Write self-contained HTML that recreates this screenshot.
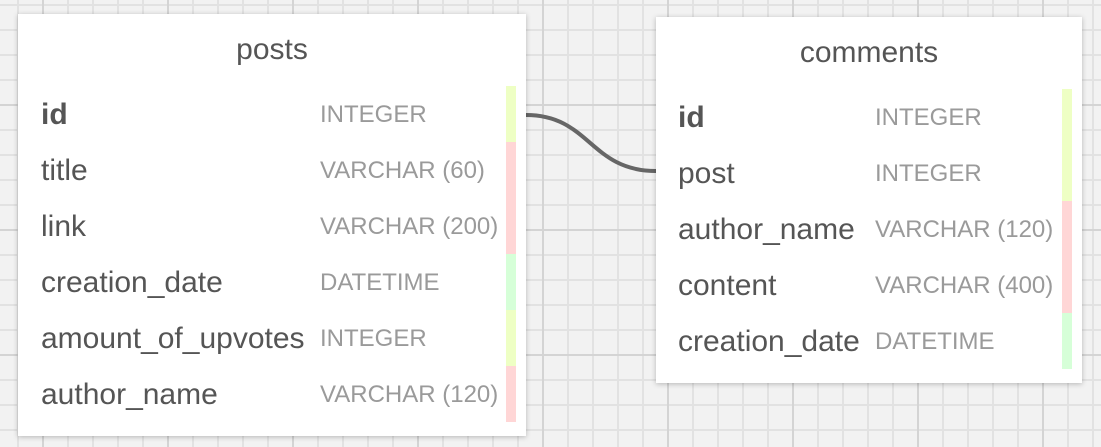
<!DOCTYPE html>
<html><head><style>
body{margin:0;width:1101px;height:447px;overflow:hidden;position:relative;font-family:"Liberation Sans",sans-serif;
background-color:#f2f2f2;
background-image:
linear-gradient(to right,#d4d4d4 2px,transparent 2px),
linear-gradient(to bottom,#d4d4d4 2px,transparent 2px),
linear-gradient(to right,#e2e2e2 2px,transparent 2px),
linear-gradient(to bottom,#e2e2e2 2px,transparent 2px);
background-size:125px 125px,125px 125px,25px 25px,25px 25px;
background-position:42px 104px,42px 104px,17px 4px,17px 4px;}
.t{position:absolute;background:#fff;box-shadow:0 1px 5px rgba(0,0,0,.25);}
.h{position:absolute;left:0;right:0;text-align:center;font-size:30px;color:#555;}
.r{position:absolute;height:56px;line-height:58px;font-size:30px;color:#555;}
.ty{position:absolute;height:56px;line-height:58px;font-size:24px;color:#9a9a9a;}
.b{position:absolute;width:10px;}
</style></head><body>
<svg style="position:absolute;left:0;top:0" width="1101" height="447"><path d="M526 115 C590 115 590 171 656 171" stroke="#666" stroke-width="4" fill="none"/></svg>
<div class="t" style="left:18px;top:14px;width:508px;height:422px">
<div class="h" style="top:19px">posts</div>
<div class="r" style="left:23px;top:72px;font-weight:bold">id</div><div class="ty" style="left:302px;top:72px">INTEGER</div>
<div class="r" style="left:23px;top:128px">title</div><div class="ty" style="left:302px;top:128px">VARCHAR (60)</div>
<div class="r" style="left:23px;top:184px">link</div><div class="ty" style="left:302px;top:184px">VARCHAR (200)</div>
<div class="r" style="left:23px;top:240px">creation_date</div><div class="ty" style="left:302px;top:240px">DATETIME</div>
<div class="r" style="left:23px;top:296px">amount_of_upvotes</div><div class="ty" style="left:302px;top:296px">INTEGER</div>
<div class="r" style="left:23px;top:352px">author_name</div><div class="ty" style="left:302px;top:352px">VARCHAR (120)</div>
<div class="b" style="left:488px;top:72px;height:56px;background:#eeffc4"></div>
<div class="b" style="left:488px;top:128px;height:112px;background:#ffd6d6"></div>
<div class="b" style="left:488px;top:240px;height:56px;background:#d6ffd8"></div>
<div class="b" style="left:488px;top:296px;height:56px;background:#eeffc4"></div>
<div class="b" style="left:488px;top:352px;height:56px;background:#ffd6d6"></div>
</div>
<div class="t" style="left:656px;top:17px;width:426px;height:366px">
<div class="h" style="top:19px">comments</div>
<div class="r" style="left:22px;top:72px;font-weight:bold">id</div><div class="ty" style="left:219px;top:72px">INTEGER</div>
<div class="r" style="left:22px;top:128px">post</div><div class="ty" style="left:219px;top:128px">INTEGER</div>
<div class="r" style="left:22px;top:184px">author_name</div><div class="ty" style="left:219px;top:184px">VARCHAR (120)</div>
<div class="r" style="left:22px;top:240px">content</div><div class="ty" style="left:219px;top:240px">VARCHAR (400)</div>
<div class="r" style="left:22px;top:296px">creation_date</div><div class="ty" style="left:219px;top:296px">DATETIME</div>
<div class="b" style="left:406px;top:72px;height:112px;background:#eeffc4"></div>
<div class="b" style="left:406px;top:184px;height:112px;background:#ffd6d6"></div>
<div class="b" style="left:406px;top:296px;height:56px;background:#d6ffd8"></div>
</div>
</body></html>
